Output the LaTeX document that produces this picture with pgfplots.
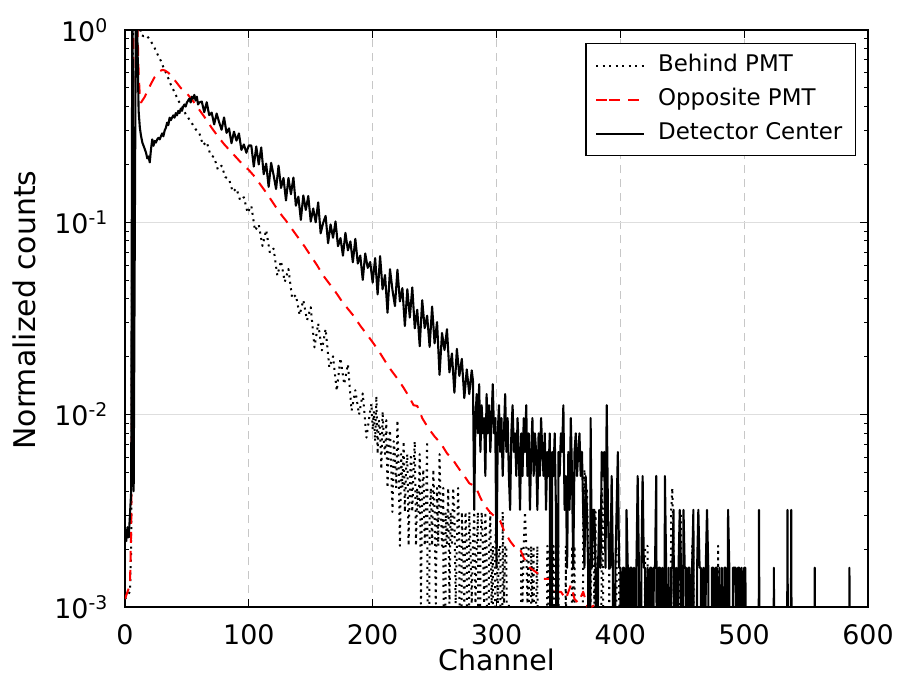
\documentclass[border=0pt]{standalone}
\usepackage{fontspec}
\setmainfont{DejaVu Sans}
\usepackage{pgfplots}
\pgfplotsset{compat=1.18}
\begin{document}
\begin{tikzpicture}
\begin{axis}[
  name=ax,
  scale only axis,
  width=743bp, height=577bp,
  xmin=0, xmax=600,
  ymode=log, ymin=0.001, ymax=1,
  xtick={0,100,...,600},
  ytick={0.001,0.01,0.1,1},
  minor ytick={0.002,0.003,0.004,0.005,0.006,0.007,0.008,0.009,0.02,0.03,0.04,0.05,0.06,0.07,0.08,0.09,0.2,0.3,0.4,0.5,0.6,0.7,0.8,0.9},
  yticklabels={10\textsuperscript{-3},10\textsuperscript{-2},10\textsuperscript{-1},10\textsuperscript{0}},
  /pgf/number format/assume math mode=true,
  tick align=inside,
  major tick length=8bp, minor tick length=4bp,
  every tick/.append style={black, line width=1bp},
  axis line style={line width=1.5bp},
  tick label style={font=\fontsize{27}{32}\selectfont},
  xticklabel style={inner sep=0pt, yshift=-17bp},
  yticklabel style={inner sep=0pt, xshift=-17bp},
  xmajorgrids, ymajorgrids,
  major x grid style={dash pattern=on 8bp off 6bp, color=black!22, line width=1.2bp},
  major y grid style={color=black!13, line width=1.2bp},
  xlabel={Channel}, ylabel={Normalized counts},
  every axis x label/.style={at={(axis description cs:0.5,-0.0728)}, anchor=north, inner sep=0pt, font=\fontsize{28.5}{33}\selectfont},
  every axis y label/.style={at={(axis description cs:-0.1507,0.5147)}, rotate=90, anchor=north, inner sep=0pt, font=\fontsize{30}{35}\selectfont},
  legend style={
    at={(axis description cs:0.98385,0.97747)}, anchor=north east,
    draw=black, line width=1.2bp, fill=white,
    font=\fontsize{23}{28}\selectfont,
    inner xsep=9bp, inner ysep=5bp,
    nodes={inner xsep=4bp, inner ysep=6bp, text height=17bp, text depth=5bp},
    column sep=9bp},
  legend cell align=left,
  legend image code/.code={\path (0bp,0bp) -- (13bp,0bp); \draw[#1] (13bp,0bp) -- (48bp,0bp);},
]
% Behind PMT
\addplot[color=black, draw=black, line width=2bp, dash pattern=on 2bp off 4.5bp, line join=round] coordinates {
(0,0.0011)(4,0.0012)(5,0.002)(6,0.3)(7,3)(11,1.5)(12,1.05)(13,0.94)(15,0.93)(17,0.94)(19,0.91)(21,0.87)(23,0.83)(25,0.78)(27,0.73)(29,0.69)(31,0.64)(33,0.60)(35,0.56)(37,0.52)(39,0.49)(41,0.46)(43,0.43)(45,0.41)(47,0.39)(49,0.365)(51,0.35)(53,0.335)(55,0.32)(57,0.305)
(60,0.291)(63,0.252)(66,0.262)(69,0.224)(72,0.218)(75,0.188)(78,0.197)(81,0.172)(84,0.168)(87,0.144)(90,0.150)(93,0.130)(96,0.135)(99,0.112)(102,0.122)(105,0.0905)(108,0.0975)(111,0.0754)(114,0.0912)(117,0.0694)(120,0.0730)(123,0.0529)(126,0.0630)(129,0.0490)(132,0.0572)(135,0.0402)(138,0.0419)(141,0.0330)(144,0.0394)(147,0.0310)(150,0.0362)(153,0.0224)(156,0.0298)(159,0.0216)(162,0.0279)(165,0.0176)(168,0.0201)(171,0.0133)(174,0.0197)(177,0.0144)(180,0.0183)(183,0.0105)(186,0.0134)(189,0.0100)(192,0.0129)(195,0.0076)(198,0.0105)
(199,0.0114)(200,0.00832)(201,0.0104)(202,0.00728)(203,0.0125)(204,0.00624)(205,0.00936)(206,0.00832)(207,0.0052)(208,0.0104)(209,0.00728)(210,0.00624)(211,0.00936)(212,0.00416)(213,0.00728)(214,0.00832)(215,0.0052)(216,0.00312)(217,0.00728)(218,0.00624)(219,0.00416)(220,0.00936)(221,0.0052)(222,0.00208)(223,0.00624)(224,0.00416)(225,0.00728)(226,0.00312)(227,0.0052)(228,0.00624)(229,0.00208)(230,0.00416)(231,0.00624)(232,0.00312)(233,0.0052)(234,0.00728)(235,0.00208)(236,0.00416)(237,0.00312)(238,0.00624)(239,0.00104)(240,0.00416)(241,0.0052)(242,0.00208)(243,0.00312)(244,0.00728)(245,0.00001)(246,0.00312)(247,0.00416)(248,0.00208)(249,0.0052)(250,0.00312)
(251,0.00104)(252,0.00416)(253,0.00208)(254,0.00624)(255,0.00312)(256,0.00208)(257,0.00416)(258,0.00001)(259,0.00312)(260,0.00208)(261,0.00416)(262,0.00104)(263,0.00312)(264,0.00208)(265,0.00416)(266,0.00312)(267,0.00104)(268,0.00208)(269,0.00416)(270,0.00208)(271,0.00001)(272,0.00312)(273,0.00208)(274,0.00104)(275,0.00312)(276,0.00208)(277,0.00001)(278,0.00312)(279,0.00208)(280,0.00104)(281,0.00208)(282,0.00312)(283,0.00104)(284,0.00208)(285,0.00312)(286,0.00001)(287,0.00208)(288,0.00312)(289,0.00208)(290,0.00104)(291,0.00312)(292,0.00208)(293,0.00001)(294,0.00208)(295,0.00312)(296,0.00104)(297,0.00208)(298,0.00001)(299,0.00208)(300,0.00312)
(301,0.00104)(302,0.00208)(303,0.00208)(304,0.00001)(305,0.00312)(306,0.00104)(307,0.00208)(308,0.00208)(309,0.00001)(310,0.00104)(311,0.00001)(319,0.00001)(320,0.00208)(321,0.00104)(322,0.00208)(323,0.00312)(324,0.00208)(325,0.00104)(326,0.00208)(327,0.00001)(328,0.00208)(329,0.00104)(330,0.00208)(331,0.00001)(332,0.00104)(333,0.00208)(334,0.00001)(340,0.00001)(341,0.00208)(342,0.00104)(343,0.00208)(344,0.00208)(345,0.00104)(346,0.00208)(347,0.00001)(348,0.00208)(349,0.00104)(350,0.00208)(351,0.00001)(355,0.00001)(356,0.00208)(357,0.00001)(360,0.00001)(361,0.00208)(362,0.00104)(363,0.00208)(364,0.00001)
(369,0.00001)(370,0.00312)(371,0.0052)(372,0.00312)(373,0.00416)(374,0.00208)(375,0.00208)(376,0.00104)(377,0.00208)(378,0.00312)(379,0.00104)(380,0.00312)(381,0.00001)(384,0.00001)(385,0.00416)(386,0.00312)(387,0.00001)(390,0.00001)(391,0.00208)(392,0.00001)(396,0.00001)(397,0.00208)(398,0.00208)(399,0.00208)(400,0.00001)(419,0.00001)(420,0.00208)(421,0.00208)(422,0.00208)(423,0.00001)(440,0.00001)(441,0.00312)(442,0.00416)(443,0.00208)(444,0.00001)(447,0.00001)(448,0.00312)(449,0.00312)(450,0.00001)(457,0.00001)(458,0.00208)(459,0.00208)(460,0.00001)(478,0.00001)(479,0.00208)(480,0.00001)(600,0.00001)
};
\addlegendentry{Behind PMT}
% Opposite PMT
\addplot[color=red, draw=red, line width=2bp, dash pattern=on 11bp off 8bp, line join=round] coordinates {
(0,0.0011)(2,0.0012)(4,0.0013)(5,0.0025)(6,0.04)(7,2)(9,2)(10,1.1)(11,0.6)(12,0.45)(13,0.42)(14,0.43)(16,0.45)(18,0.48)(20,0.51)(22,0.54)(24,0.57)(26,0.59)(28,0.61)(30,0.62)(32,0.617)(35,0.60)(40,0.55)(45,0.50)(50,0.468)(55,0.427)(60,0.385)(65,0.347)(70,0.31)(75,0.28)(80,0.255)(85,0.235)(90,0.217)(95,0.20)(100,0.187)(105,0.172)(110,0.155)(115,0.14)(120,0.125)(125,0.112)(130,0.102)(135,0.092)(140,0.083)(145,0.075)(150,0.067)(155,0.060)(160,0.053)(165,0.048)(170,0.0435)(175,0.039)(180,0.0355)(185,0.0324)(190,0.029)(195,0.0263)(200,0.0238)(205,0.0214)(210,0.0190)(215,0.0170)(220,0.0154)(225,0.0138)(230,0.0122)(233,0.0112)(236,0.0111)(238,0.0104)(240,0.0096)(245,0.0085)(250,0.0077)(255,0.0071)(260,0.0063)(265,0.0058)(270,0.0052)(275,0.0047)(278,0.0044)(281,0.0043)(284,0.0041)(287,0.0037)(290,0.0034)(295,0.0031)(300,0.0029)(303,0.0028)(306,0.0025)(311,0.0022)(316,0.0020)(319,0.0020)(322,0.0018)(327,0.0016)(333,0.0015)(338,0.0014)(344,0.0014)(348,0.0012)(352,0.0012)(356,0.0011)(360,0.0013)(363,0.0011)(366,0.00105)(370,0.0012)(374,0.00098)(379,0.00102)(381,0.00001)
};
\addlegendentry{Opposite PMT}
% Detector Center
\addplot[color=black, draw=black, line width=2.1bp, line join=round] coordinates {
(0,0.0025)(1,0.0022)(2,0.0026)(3,0.0023)(4,0.003)(5,0.004)(6,3)(7,0.004)(9,3)(10,0.9)(11,0.38)(12,0.31)(13,0.28)(14,0.26)(15,0.25)(16,0.24)(17,0.23)(18,0.215)(19,0.22)(20,0.205)(21,0.24)(22,0.27)(23,0.25)(24,0.265)(25,0.26)(26,0.27)(27,0.275)(28,0.27)(29,0.28)(30,0.29)(31,0.28)(32,0.30)(33,0.31)(34,0.33)(35,0.32)(36,0.35)(37,0.34)(38,0.35)(39,0.36)(40,0.35)(41,0.37)(42,0.36)(43,0.38)(44,0.37)(45,0.39)(46,0.38)(47,0.40)(48,0.41)(49,0.40)(50,0.42)(51,0.43)(52,0.44)(53,0.42)(54,0.45)(55,0.44)(56,0.46)(57,0.43)(58,0.45)(59,0.41)(60,0.42)
(62,0.425)(64,0.374)(66,0.421)(68,0.361)(70,0.372)(72,0.323)(74,0.368)(76,0.332)(78,0.303)(80,0.351)(82,0.292)(84,0.308)(86,0.258)(88,0.296)(90,0.266)(92,0.290)(94,0.238)(96,0.254)(98,0.230)(100,0.251)
(102,0.251)(104,0.195)(106,0.248)(108,0.200)(110,0.245)(112,0.178)(114,0.202)(116,0.153)(118,0.204)(120,0.176)(122,0.149)(124,0.197)(126,0.151)(128,0.170)(130,0.130)(132,0.170)(134,0.140)(136,0.171)(138,0.122)(140,0.136)(142,0.103)(144,0.138)(146,0.116)(148,0.137)(150,0.101)(152,0.118)(154,0.100)(156,0.127)(158,0.0877)(160,0.0993)(162,0.108)(164,0.0779)(166,0.0975)(168,0.0832)(170,0.101)(172,0.0752)(174,0.0828)(176,0.0671)(178,0.0882)(180,0.0715)(182,0.0796)(184,0.0620)(186,0.0821)(188,0.0611)(190,0.0672)(192,0.0502)(194,0.0689)(196,0.0580)(198,0.0622)(200,0.0486)
(202,0.0652)(204,0.0422)(206,0.0667)(208,0.0449)(210,0.0532)(212,0.0339)(214,0.0571)(216,0.0444)(218,0.0367)(220,0.0567)(222,0.0388)(224,0.0455)(226,0.0289)(228,0.0449)(230,0.0320)(232,0.0459)(234,0.0281)(236,0.0351)(238,0.0227)(240,0.0394)(242,0.0282)(244,0.0327)(246,0.0225)(248,0.0365)(250,0.0235)(252,0.0303)(254,0.0161)(256,0.0266)(258,0.0217)(260,0.0278)(262,0.0166)(264,0.0208)(266,0.0130)(268,0.0220)(270,0.0159)(272,0.0195)(274,0.0122)(276,0.0172)(278,0.0128)(280,0.0170)(281,0.0150)(282,0.0032)
(283,0.0096)(284,0.0128)(285,0.008)(286,0.0144)(287,0.0064)(288,0.0112)(289,0.008)(290,0.0096)(291,0.0048)(292,0.0128)(293,0.008)(294,0.0112)(295,0.0064)(296,0.0096)(297,0.0144)(298,0.008)(299,0.0096)(300,0.0016)(301,0.008)(302,0.0112)(303,0.0064)(304,0.0096)(305,0.0048)(306,0.008)(307,0.0128)(308,0.0064)(309,0.0096)(310,0.0048)(311,0.0032)(312,0.008)(313,0.0112)(314,0.0064)(315,0.008)(316,0.0048)(317,0.0096)(318,0.0064)(319,0.0032)(320,0.008)(321,0.0048)(322,0.0096)(323,0.0064)(324,0.0112)(325,0.0048)(326,0.008)(327,0.0032)(328,0.0064)(329,0.0096)(330,0.0048)(331,0.008)(332,0.0064)(333,0.0032)(334,0.008)(335,0.0048)(336,0.0096)(337,0.0064)(338,0.0048)(339,0.008)(340,0.0032)(341,0.0064)(342,0.0048)(343,0.008)(344,0.00001)(345,0.0064)(346,0.0048)(347,0.008)(348,0.0032)(349,0.00001)(350,0.0064)
(351,0.0048)(352,0.008)(353,0.0064)(354,0.0112)(355,0.0032)(356,0.0048)(357,0.0016)(358,0.0064)(359,0.0032)(360,0.0096)(361,0.0048)(362,0.0016)(363,0.0064)(364,0.008)(365,0.0048)(366,0.0064)(367,0.008)(368,0.0048)(369,0.0064)(370,0.0032)(371,0.0016)(372,0.0048)(373,0.0032)(374,0.0016)(375,0.00001)(376,0.0096)(377,0.0016)(378,0.0032)(379,0.0032)(380,0.0016)(381,0.00001)(382,0.0016)(383,0.0032)(384,0.0016)(385,0.0064)(386,0.0048)(387,0.0064)(388,0.0016)(389,0.0112)(390,0.0032)(391,0.0016)(392,0.0016)(393,0.0048)(394,0.0016)(395,0.00001)(396,0.0016)(397,0.0032)(398,0.0064)(399,0.0016)(400,0.0016)
(401,0.00001)(402,0.0016)(403,0.0016)(404,0.00001)(405,0.0032)(406,0.0016)(407,0.00001)(408,0.0016)(409,0.0016)(410,0.00001)(411,0.0016)(412,0.00001)(413,0.0016)(414,0.0048)(415,0.0016)(416,0.00001)(417,0.0016)(418,0.0048)(419,0.0016)(420,0.0016)(421,0.00001)(422,0.0016)(423,0.00001)(424,0.0016)(425,0.0016)(426,0.00001)(427,0.0016)(428,0.0016)(429,0.0048)(430,0.00001)(431,0.0016)(432,0.0016)(433,0.00001)(434,0.0016)(435,0.00001)(436,0.0048)(437,0.0016)(438,0.00001)(439,0.0016)(440,0.00001)(441,0.0016)(442,0.0016)(443,0.0032)(444,0.00001)(445,0.0016)(446,0.00001)(447,0.0016)(448,0.0032)(449,0.0016)(450,0.00001)
(451,0.0032)(452,0.0016)(453,0.0016)(454,0.00001)(455,0.0016)(456,0.0016)(457,0.00001)(458,0.0016)(459,0.0032)(460,0.00001)(461,0.00001)(462,0.0016)(463,0.0032)(464,0.0016)(465,0.0016)(466,0.00001)(467,0.0016)(468,0.00001)(469,0.0016)(470,0.0032)(471,0.0016)(472,0.00001)(473,0.00001)(474,0.0016)(475,0.0016)(476,0.00001)(477,0.0016)(478,0.0016)(479,0.00001)(480,0.0016)(481,0.00001)(482,0.0016)(483,0.00001)(484,0.0016)(485,0.0016)(486,0.00001)(487,0.0032)(488,0.0016)(489,0.00001)(490,0.00001)(491,0.0016)(492,0.0016)(493,0.0016)(494,0.00001)(495,0.0016)(496,0.0016)(497,0.00001)(498,0.0016)(499,0.00001)(500,0.0016)(501,0.0016)(502,0.00001)
(511,0.00001)(512,0.0032)(513,0.00001)(523,0.00001)(524,0.0016)(525,0.00001)(534,0.00001)(535,0.0032)(536,0.00001)(537,0.00001)(538,0.0032)(539,0.00001)(556,0.00001)(557,0.0016)(558,0.00001)(584,0.00001)(585,0.0016)(586,0.00001)(600,0.00001)
};
\addlegendentry{Detector Center}
\end{axis}
\pgfresetboundingbox
\path[use as bounding box] (ax.south west) ++(-125bp,-72bp) rectangle ++(904bp,679bp);
\end{tikzpicture}
\end{document}
